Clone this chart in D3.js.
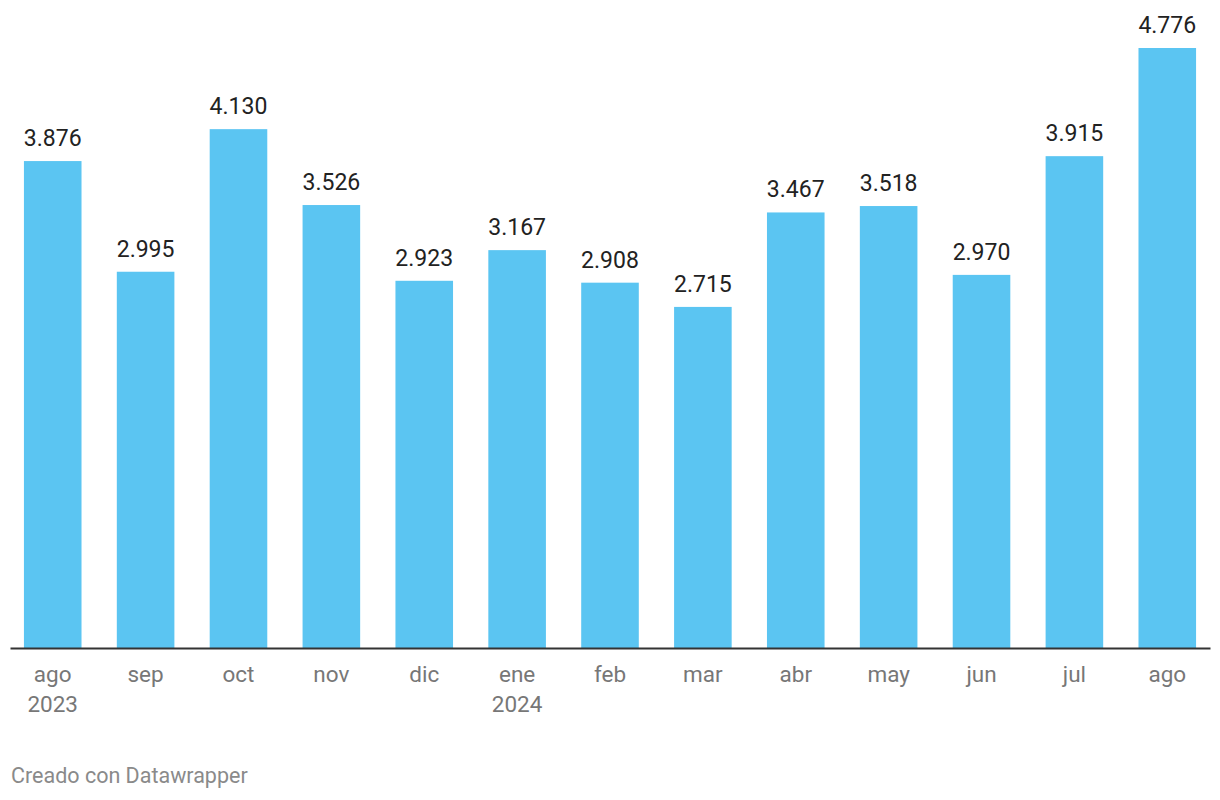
<!DOCTYPE html>
<html>
<head>
<meta charset="utf-8">
<script src="https://cdn.jsdelivr.net/npm/d3@7"></script>
<style>
  body { margin: 0; background: #fff; }
  svg { display: block; font-family: Roboto, sans-serif; }
</style>
</head>
<body>
<div id="chart"></div>
<script>
// monthly values (thousands), Aug 2023 - Aug 2024
const months = ["ago", "sep", "oct", "nov", "dic", "ene", "feb", "mar", "abr", "may", "jun", "jul", "ago2"];
const monthLabels = [["ago", "2023"], ["sep"], ["oct"], ["nov"], ["dic"], ["ene", "2024"], ["feb"], ["mar"], ["abr"], ["may"], ["jun"], ["jul"], ["ago"]];
const values = [3876, 2995, 4130, 3526, 2923, 3167, 2908, 2715, 3467, 3518, 2970, 3915, 4776];

const width = 1220;
const height = 800;
const margin = { top: 48, right: 10, bottom: 152, left: 10 };

const esFormat = d3.formatLocale({ decimal: ",", thousands: ".", grouping: [3], currency: ["", "€"] }).format(",d");

const svg = d3
  .select("#chart")
  .append("svg")
  .attr("width", width)
  .attr("height", height);

const x = d3
  .scaleBand()
  .domain(months)
  .range([margin.left, width - margin.right])
  .paddingInner(0.38)
  .paddingOuter(0.15);

const y = d3
  .scaleLinear()
  .domain([0, d3.max(values)])
  .range([height - margin.bottom, margin.top]);

const data = months.map((m, i) => ({ month: m, label: monthLabels[i], value: values[i] }));

svg
  .selectAll(".bar")
  .data(data)
  .join("rect")
  .attr("class", "bar")
  .attr("x", (d) => x(d.month))
  .attr("y", (d) => y(d.value))
  .attr("width", x.bandwidth())
  .attr("height", (d) => y(0) - y(d.value))
  .attr("fill", "#5bc5f2");

svg
  .selectAll(".value")
  .data(data)
  .join("text")
  .attr("class", "value")
  .attr("x", (d) => x(d.month) + x.bandwidth() / 2)
  .attr("y", (d) => y(d.value) - 15)
  .attr("text-anchor", "middle")
  .attr("font-size", 23)
  .attr("fill", "#222")
  .text((d) => esFormat(d.value));

// x axis: baseline + two-line labels
const xAxis = svg
  .append("g")
  .attr("transform", `translate(0,${y(0)})`)
  .call(d3.axisBottom(x).tickSize(0).tickFormat(""));

xAxis.select(".domain").attr("stroke", "#333").attr("stroke-width", 2);

xAxis
  .selectAll(".tick")
  .data(data)
  .select("text")
  .attr("font-size", 22.5)
  .attr("font-family", "Roboto, sans-serif")
  .attr("fill", "#777")
  .attr("y", 0)
  .attr("dy", null)
  .each(function (d) {
    const t = d3.select(this);
    d.label.forEach((line, i) => {
      t.append("tspan")
        .attr("x", 0)
        .attr("y", 34 + i * 30)
        .text(line);
    });
  });

svg
  .append("text")
  .attr("x", 11)
  .attr("y", 783)
  .attr("font-size", 21.5)
  .attr("fill", "#8a8a8a")
  .text("Creado con Datawrapper");
</script>
</body>
</html>
